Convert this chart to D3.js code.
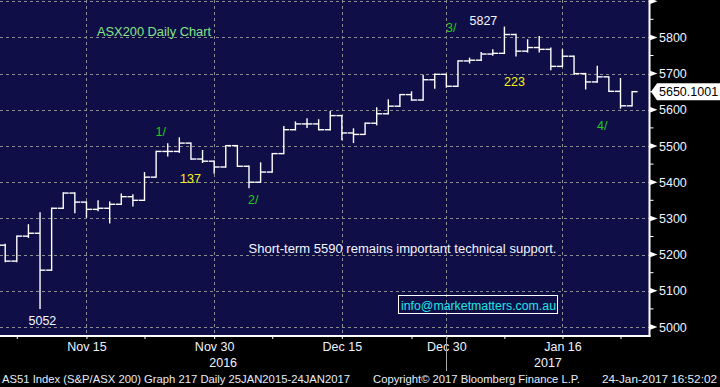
<!DOCTYPE html>
<html>
<head>
<meta charset="utf-8">
<script src="https://cdn.jsdelivr.net/npm/d3@7"></script>
<style>
  html, body { margin: 0; padding: 0; background: #000; }
  svg { display: block; }
  text { font-family: "Liberation Sans", Arial, sans-serif; }
</style>
</head>
<body>
<script>
// ASX200 daily OHLC, 4 Nov 2016 - 24 Jan 2017
var dates = ["2016-11-04","2016-11-07","2016-11-08","2016-11-09","2016-11-10","2016-11-11","2016-11-14",
  "2016-11-15","2016-11-16","2016-11-17","2016-11-18","2016-11-21","2016-11-22","2016-11-23","2016-11-24",
  "2016-11-25","2016-11-28","2016-11-29","2016-11-30","2016-12-01","2016-12-02","2016-12-05","2016-12-06",
  "2016-12-07","2016-12-08","2016-12-09","2016-12-12","2016-12-13","2016-12-14","2016-12-15","2016-12-16",
  "2016-12-19","2016-12-20","2016-12-21","2016-12-22","2016-12-23","2016-12-28","2016-12-29","2016-12-30",
  "2017-01-03","2017-01-04","2017-01-05","2017-01-06","2017-01-09","2017-01-10","2017-01-11","2017-01-12",
  "2017-01-13","2017-01-16","2017-01-17","2017-01-18","2017-01-19","2017-01-20","2017-01-23","2017-01-24"];

var opens = [5226,5182,5251,5259,5157,5328,5370,5345,5325,5328,
  5339,5360,5350,5414,5485,5485,5508,5464,5458,5442,
  5501,5444,5400,5428,5479,5545,5561,5561,5545,5584,
  5536,5532,5563,5589,5610,5642,5627,5683,5698,5665,
  5735,5737,5754,5756,5808,5762,5772,5767,5720,5748,
  5700,5677,5691,5651,5611];
var highs = [5228,5251,5282,5315,5328,5370,5370,5345,5348,5345,
  5367,5365,5426,5485,5506,5522,5508,5487,5458,5501,
  5501,5444,5453,5479,5553,5566,5575,5572,5595,5584,
  5547,5563,5605,5627,5642,5649,5695,5698,5698,5735,
  5742,5758,5765,5828,5808,5793,5802,5770,5765,5748,
  5700,5720,5691,5686,5650];
var lows = [5181,5181,5248,5052,5157,5328,5316,5304,5322,5288,
  5339,5335,5350,5414,5473,5483,5464,5455,5425,5442,
  5444,5385,5400,5428,5479,5545,5552,5545,5545,5518,
  5510,5532,5559,5589,5610,5627,5627,5660,5663,5665,
  5730,5737,5751,5756,5749,5760,5760,5711,5720,5698,
  5658,5677,5651,5605,5611];
var closes = [5182,5251,5259,5157,5328,5370,5345,5325,5328,5339,
  5360,5350,5414,5485,5485,5508,5464,5458,5442,5501,
  5444,5400,5428,5479,5545,5561,5561,5545,5584,5536,
  5532,5563,5589,5610,5642,5627,5683,5698,5665,5735,
  5737,5754,5756,5808,5762,5772,5767,5720,5748,5700,
  5677,5691,5651,5611,5650.1001];

var yTicks = [5000,5100,5200,5300,5400,5500,5600,5700,5800,5900];
var yLabels = [5000,5100,5200,5300,5400,5500,5600,5700,5800];
var yMinor = [5050,5150,5250,5350,5450,5550,5650,5750,5850];
var xTickDates = ["2016-11-07","2016-11-15","2016-11-22","2016-11-30","2016-12-07","2016-12-15",
  "2016-12-23","2016-12-30","2017-01-09","2017-01-16","2017-01-23"];
var xLabelDates = ["2016-11-15","2016-11-30","2016-12-15","2016-12-30","2017-01-16"];
var xLabels = ["Nov 15","Nov 30","Dec 15","Dec 30","Jan 16"];
var years = ["2016","2017"];

var width = 720, height = 387;
var plotRight = 649.5, plotBottom = 336;

var svg = d3.select("body").append("svg")
  .attr("width", width)
  .attr("height", height);

var x = d3.scalePoint().domain(dates).range([5.2, 632.1]);
var y = d3.scaleLinear().domain([5000, 5800]).range([327, 37.4]);

// plot background
svg.append("rect")
  .attr("x", 0).attr("y", 0)
  .attr("width", plotRight).attr("height", plotBottom)
  .attr("fill", "#100e46");

var grid = svg.append("g")
  .attr("stroke", "#8c8c8c")
  .attr("stroke-width", 1)
  .attr("stroke-dasharray", "3,3");

grid.selectAll(".hgrid")
  .data(yTicks)
  .enter().append("line")
  .attr("x1", 0).attr("x2", plotRight)
  .attr("y1", function(d){ return Math.round(y(d)) + 0.5; })
  .attr("y2", function(d){ return Math.round(y(d)) + 0.5; });

grid.selectAll(".vgrid")
  .data(xLabelDates)
  .enter().append("line")
  .attr("y1", 0).attr("y2", plotBottom)
  .attr("x1", function(d){ return Math.round(x(d)) + 0.5; })
  .attr("x2", function(d){ return Math.round(x(d)) + 0.5; });

// OHLC bars
var tick = 5.5;
var bars = svg.append("g")
  .attr("stroke", "#fff")
  .attr("stroke-width", 1.4)
  .selectAll("g")
  .data(dates)
  .enter().append("g");

bars.append("line")
  .attr("x1", function(d){ return x(d); })
  .attr("x2", function(d){ return x(d); })
  .attr("y1", function(d, i){ return y(highs[i]) - 0.7; })
  .attr("y2", function(d, i){ return y(lows[i]) + 0.7; });
bars.append("line")
  .attr("x1", function(d){ return x(d) - tick; })
  .attr("x2", function(d){ return x(d); })
  .attr("y1", function(d, i){ return y(opens[i]); })
  .attr("y2", function(d, i){ return y(opens[i]); });
bars.append("line")
  .attr("x1", function(d){ return x(d); })
  .attr("x2", function(d){ return x(d) + tick; })
  .attr("y1", function(d, i){ return y(closes[i]); })
  .attr("y2", function(d, i){ return y(closes[i]); });

// frame lines
svg.append("line")
  .attr("x1", 0).attr("x2", plotRight + 1)
  .attr("y1", plotBottom).attr("y2", plotBottom)
  .attr("stroke", "#fff").attr("stroke-width", 2);
svg.append("line")
  .attr("x1", plotRight).attr("x2", plotRight)
  .attr("y1", 0).attr("y2", plotBottom + 1)
  .attr("stroke", "#fff").attr("stroke-width", 2);

// right axis: triangles, minor ticks, labels
var ra = svg.append("g");
ra.selectAll("path")
  .data(yTicks)
  .enter().append("path")
  .attr("d", function(d){
    var yy = y(d);
    return "M" + plotRight + "," + (yy - 3) + "L" + (plotRight + 8) + "," + yy + "L" + plotRight + "," + (yy + 3) + "Z";
  })
  .attr("fill", "#fff");
ra.selectAll(".minor")
  .data(yMinor)
  .enter().append("line")
  .attr("x1", plotRight).attr("x2", plotRight + 4)
  .attr("y1", function(d){ return y(d); })
  .attr("y2", function(d){ return y(d); })
  .attr("stroke", "#fff").attr("stroke-width", 1);
ra.selectAll("text")
  .data(yLabels)
  .enter().append("text")
  .attr("x", 659)
  .attr("y", function(d){ return y(d) + 4.5; })
  .attr("fill", "#eef3ff")
  .style("font-size", "12.5px")
  .text(function(d){ return d; });

// last price marker
var lastY = y(closes[closes.length - 1]);
svg.append("path")
  .attr("d", "M651," + lastY + "L657," + (lastY - 8.5) + "L720," + (lastY - 8.5) +
    "L720," + (lastY + 8.5) + "L657," + (lastY + 8.5) + "Z")
  .attr("fill", "#fff");
svg.append("text")
  .attr("x", 659).attr("y", lastY + 4.5)
  .attr("fill", "#000")
  .style("font-size", "12.5px")
  .text(closes[closes.length - 1].toFixed(4));

// bottom axis
var xAxis = d3.axisBottom(x)
  .tickValues(xTickDates)
  .tickSize(3)
  .tickPadding(3)
  .tickFormat(function(d){
    var k = xLabelDates.indexOf(d);
    return k >= 0 ? xLabels[k] : "";
  });
var gx = svg.append("g")
  .attr("transform", "translate(0," + plotBottom + ")")
  .call(xAxis);
gx.select(".domain").remove();
gx.selectAll("line").attr("stroke", "#fff");
gx.selectAll("text")
  .attr("fill", "#eef3ff")
  .style("font-size", "12.5px")
  .style("font-family", "'Liberation Sans', Arial, sans-serif");

// year labels and separator
var yearBreak = x("2016-12-30");
svg.append("line")
  .attr("x1", Math.round(yearBreak) + 0.5).attr("x2", Math.round(yearBreak) + 0.5)
  .attr("y1", plotBottom).attr("y2", 371)
  .attr("stroke", "#a8a8a8").attr("stroke-width", 1);
svg.selectAll(".year")
  .data(years)
  .enter().append("text")
  .attr("x", function(d, i){ return i === 0 ? yearBreak / 2 : (yearBreak + plotRight) / 2; })
  .attr("y", 367)
  .attr("text-anchor", "middle")
  .attr("fill", "#eef3ff")
  .style("font-size", "12.5px")
  .text(function(d){ return d; });

// footer
function footer(str, x0, len) {
  svg.append("text")
    .attr("x", x0).attr("y", 383)
    .attr("fill", "#e6ecf8")
    .attr("textLength", len)
    .attr("lengthAdjust", "spacingAndGlyphs")
    .style("font-size", "11.5px")
    .text(str);
}
footer("AS51 Index (S&P/ASX 200) Graph 217  Daily 25JAN2015-24JAN2017", 2, 348);
footer("Copyright\u00a9 2017 Bloomberg Finance L.P.", 373, 207);
footer("24-Jan-2017 16:52:02", 602, 115);

// annotations
function note(str, px, py, color, len) {
  var t = svg.append("text")
    .attr("x", px).attr("y", py)
    .attr("fill", color)
    .style("font-size", "12.5px")
    .text(str);
  if (len) t.attr("textLength", len).attr("lengthAdjust", "spacingAndGlyphs");
}
note("ASX200 Daily Chart", 97, 36, "#86e486", 114);
note("5827", 469.5, 24.5, "#f4f6ff");
note("3/", 446, 31.5, "#1ecb1e");
note("223", 504, 86, "#f2f21a");
note("4/", 597, 130, "#1ecb1e");
note("1/", 155.5, 136, "#1ecb1e");
note("137", 180, 182.5, "#f2f21a");
note("2/", 248, 203.5, "#1ecb1e");
note("5052", 28.5, 324.5, "#f4f6ff");
note("Short-term 5590 remains important technical support.", 248.5, 252.5, "#f4f6ff", 308);

// contact box
svg.append("rect")
  .attr("x", 398.5).attr("y", 295.5)
  .attr("width", 159).attr("height", 18)
  .attr("fill", "none")
  .attr("stroke", "#fff").attr("stroke-width", 1);
note("info@marketmatters.com.au", 401, 309.5, "#1ee6e6", 155);
</script>
</body>
</html>
